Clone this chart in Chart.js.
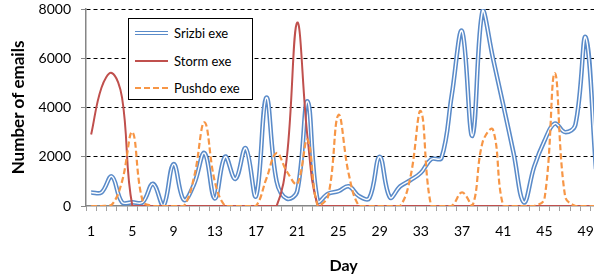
<!DOCTYPE html>
<html>
<head>
<meta charset="utf-8">
<script src="https://cdn.jsdelivr.net/npm/chart.js@4.4.1/dist/chart.umd.min.js"></script>
<style>
    html, body { margin: 0; padding: 0; background: #fff; overflow: hidden; width: 594px; height: 275px; }
    #wrap { position: relative; width: 608px; height: 275px; }
    #legend { position: absolute; left: 128px; top: 18px; width: 123px; height: 80px; border: 1px solid #000; background: #fff;
              font: 13px Lato, sans-serif; color: #000; }
    .row { position: absolute; left: 6px; height: 16px; display: flex; align-items: center; }
    .sample { width: 33px; margin-right: 6px; }
    .srizbi { height: 0; border-top: 4px double #5a8bc9; }
    .storm { height: 2px; background: #c0504d; }
    .pushdo { height: 2px; background: repeating-linear-gradient(90deg, #f79646 0 6px, transparent 6px 9px); }
</style>
</head>
<body>
<div id="wrap">
    <canvas id="chart" width="608" height="275"></canvas>
    <div id="legend">
        <div class="row" style="top:6px"><div class="sample srizbi"></div>Srizbi exe</div>
        <div class="row" style="top:34px"><div class="sample storm"></div>Storm exe</div>
        <div class="row" style="top:61px"><div class="sample pushdo"></div>Pushdo exe</div>
    </div>
</div>
<script>
// categories (days) and the labels shown on the axis
const days = ['1','2','3','4','5','6','7','8','9','10','11','12','13','14','15','16','17','18','19','20',
              '21','22','23','24','25','26','27','28','29','30','31','32','33','34','35','36','37','38','39','40',
              '41','42','43','44','45','46','47','48','49','50'];
const dayTicks = ['1','5','9','13','17','21','25','29','33','37','41','45','49'];
const yTicks = [0, 2000, 4000, 6000, 8000];

// number of emails per day
const srizbi = [550, 550, 1200, 150, 150, 150, 900, 0, 1700, 250,
                900, 2150, 300, 2000, 1100, 2350, 400, 4400, 1000, 300,
                600, 4250, 200, 500, 600, 800, 400, 320, 2000, 350,
                800, 1050, 1350, 1900, 1950, 4500, 7100, 2850, 7950, 6000,
                4100, 2150, 150, 1600, 2650, 3350, 3000, 3300, 6850, 1500];
const storm = [2900, 4800, 5400, 4400, 0, 0, 0, 0, 0, 0,
               0, 0, 0, 0, 0, 0, 0, 0, 0, 2000,
               7450, 2800, 0, 0, 0, 0, 0, 0, 0, 0,
               0, 0, 0, 0, 0, 0, 0, 0, 0, 0,
               0, 0, 0, 0, 0, 0, 0, 0, 0, 0];
const pushdo = [0, 0, 50, 1000, 3000, 200, 0, 0, 0, 0,
                1200, 3400, 1000, 0, 0, 0, 0, 1100, 2150, 1400,
                900, 2700, 0, 400, 3700, 1300, 0, 0, 0, 0,
                0, 1200, 3850, 0, 0, 0, 550, 0, 2600, 3100,
                0, 0, 0, 0, 300, 5400, 400, 0, 0, 0];

const font = { family: 'Lato', size: 14 };
const titleFont = { family: 'Lato', size: 17, weight: 'bold' };

new Chart(document.getElementById('chart'), {
    type: 'line',
    data: {
        labels: days,
        datasets: [
            { label: 'Srizbi exe', data: srizbi, borderColor: '#5a8bc9', borderWidth: 4.5, order: 4 },
            { label: 'Srizbi inner', data: srizbi, borderColor: '#ffffff', borderWidth: 1.4, order: 3 },
            { label: 'Storm exe', data: storm, borderColor: '#c0504d', borderWidth: 2, order: 2 },
            { label: 'Pushdo exe', data: pushdo, borderColor: '#f79646', borderWidth: 2.2, borderDash: [6, 3], order: 1 },
        ],
    },
    options: {
        responsive: false,
        animation: false,
        devicePixelRatio: 1,
        elements: { point: { radius: 0 }, line: { tension: 0.4, fill: false } },
        layout: { padding: { top: 9, right: 0, bottom: 0, left: 0 } },
        plugins: { legend: { display: false }, tooltip: { enabled: false } },
        scales: {
            x: {
                offset: true,
                grid: { offset: true, drawOnChartArea: false, tickLength: 5, color: '#a0a0a0' },
                border: { color: '#868686', width: 1.5 },
                ticks: {
                    autoSkip: false, maxRotation: 0, padding: 12, color: '#000', font,
                    callback: (v, i) => dayTicks.includes(days[i]) ? days[i] : '',
                },
                title: { display: true, text: 'Day', color: '#000', font: { family: 'Lato', size: 16, weight: 'bold' }, padding: { top: 0, bottom: 0 } },
                afterFit: s => { s.height = 69; },
            },
            y: {
                min: 0, max: 8000,
                afterBuildTicks: s => { s.ticks = yTicks.map(v => ({ value: v })); },
                ticks: { padding: 10, color: '#000', font, callback: v => String(v) },
                grid: {
                    color: c => c.tick.value === 0 ? 'rgba(0,0,0,0)' : '#000',
                    tickColor: '#868686', tickLength: 5, tickBorderDash: [],
                },
                border: { color: '#868686', width: 1.5, dash: [4, 3] },
                title: { display: true, text: 'Number of emails', color: '#000', font: titleFont, padding: { top: 8, bottom: 0 } },
                // fixed axis width; drop the label half-height padding so 8000 sits near the top
                afterFit: s => { s.width = 86; s.paddingTop = 0; s.paddingBottom = 0; },
            },
        },
    },
});
</script>
</body>
</html>
